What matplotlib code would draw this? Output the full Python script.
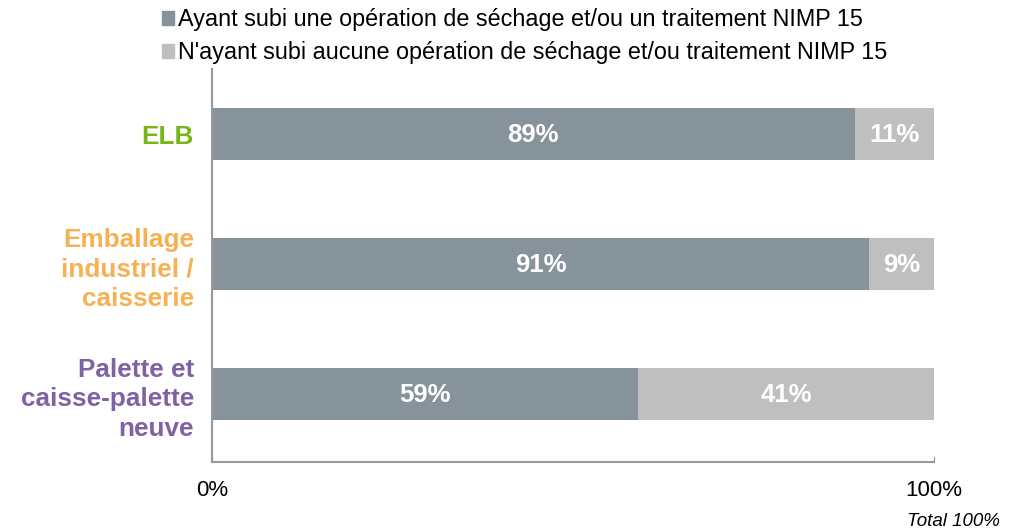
import matplotlib
matplotlib.use("Agg")
import matplotlib.pyplot as plt
from matplotlib.patches import Patch

# data (bottom -> top)
categories = ["Palette et\ncaisse-palette\nneuve", "Emballage\nindustriel /\ncaisserie", "ELB"]
cat_colors = ["#7f62a3", "#f6b152", "#77b617"]
treated = [59, 91, 89]
untreated = [41, 9, 11]
series_names = ["Ayant subi une opération de séchage et/ou un traitement NIMP 15",
                "N'ayant subi aucune opération de séchage et/ou traitement NIMP 15"]
c_dark, c_light = "#87939a", "#bfbfbf"

plt.rcParams["font.family"] = ["Liberation Sans", "DejaVu Sans"]

fig = plt.figure(figsize=(10.17, 5.31), dpi=100)
ax = fig.add_axes([212 / 1017, 1 - 462 / 531, (934 - 212) / 1017, (462 - 69) / 531])

y = range(len(categories))
ax.barh(y, treated, height=0.4, color=c_dark)
ax.barh(y, untreated, left=treated, height=0.4, color=c_light)

for yi, a, b in zip(y, treated, untreated):
    ax.text(a / 2, yi - 0.01, f"{a}%", ha="center", va="center", color="white",
            fontsize=18.5, fontweight="bold")
    ax.text(a + b / 2, yi - 0.01, f"{b}%", ha="center", va="center", color="white",
            fontsize=18.5, fontweight="bold")

ax.set_xlim(0, 100)
ax.set_ylim(-0.523, 2.5)
ax.set_xticks([0, 100])
ax.set_xticklabels(["0%", "100%"], fontsize=16)
ax.tick_params(axis="x", direction="in", length=4, color="#999999", pad=13)
ax.set_yticks(list(y))
ax.set_yticklabels(categories, fontsize=18.8, fontweight="bold", linespacing=1.3)
for lbl, c in zip(ax.get_yticklabels(), cat_colors):
    lbl.set_color(c)
ax.tick_params(axis="y", length=0, pad=13)
for s in ("top", "right"):
    ax.spines[s].set_visible(False)
for s in ("left", "bottom"):
    ax.spines[s].set_color("#999999")
    ax.spines[s].set_linewidth(1.5)

handles = [Patch(color=c_dark), Patch(color=c_light)]
fig.legend(handles, series_names, loc="upper left", bbox_to_anchor=(151 / 1017, 1.005),
           frameon=False, fontsize=16.8, handlelength=0.55, handleheight=0.55,
           handletextpad=0.15, labelspacing=0.45, borderaxespad=0.05)

fig.text(1000 / 1017, 1 - 521 / 531, "Total 100%", ha="right", va="center",
         fontsize=13.5, fontstyle="italic")

fig.savefig("out.png", dpi=100)
